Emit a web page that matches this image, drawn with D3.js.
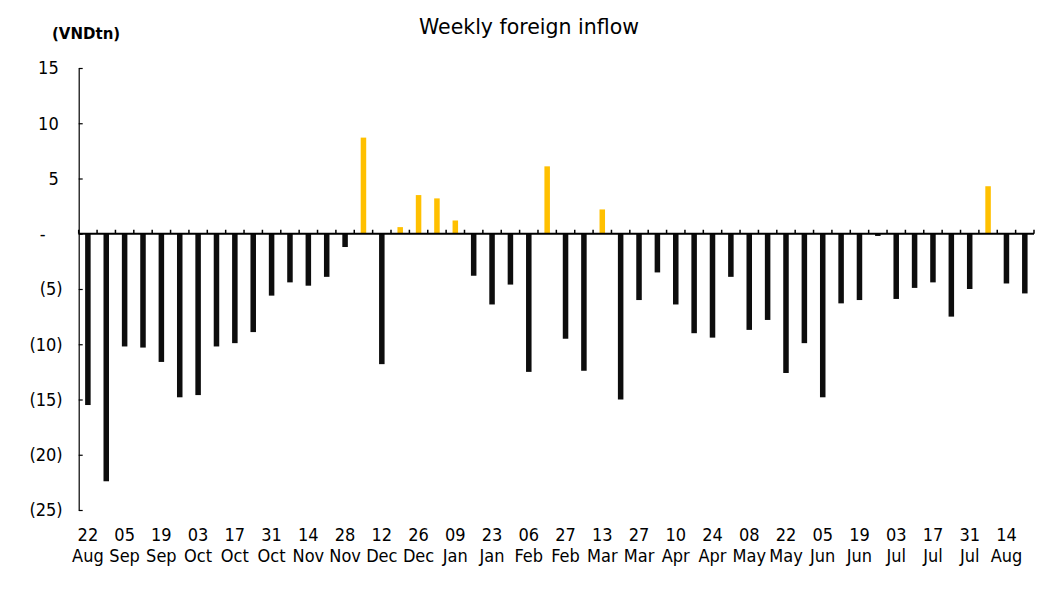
<!DOCTYPE html>
<html>
<head>
<meta charset="utf-8">
<script src="https://cdn.jsdelivr.net/npm/d3@7"></script>
<style>
  body { margin: 0; background: #fff; }
  svg text { font-family: "DejaVu Sans", sans-serif; fill: #000; }
  svg .tick text { font-family: "DejaVu Sans Condensed", "DejaVu Sans", sans-serif; font-stretch: condensed; }
</style>
</head>
<body>
<svg id="chart" width="1058" height="607"></svg>
<script>
// weekly net foreign buy/sell, VND trillion (Tet week not reported)
var weeks = [
  '22 Aug', '29 Aug', '05 Sep', '12 Sep', '19 Sep', '26 Sep', '03 Oct', '10 Oct', '17 Oct', '24 Oct',
  '31 Oct', '07 Nov', '14 Nov', '21 Nov', '28 Nov', '05 Dec', '12 Dec', '19 Dec', '26 Dec', '02 Jan',
  '09 Jan', '16 Jan', '23 Jan', '30 Jan', '06 Feb', '13 Feb', '27 Feb', '06 Mar', '13 Mar', '20 Mar',
  '27 Mar', '03 Apr', '10 Apr', '17 Apr', '24 Apr', '01 May', '08 May', '15 May', '22 May', '29 May',
  '05 Jun', '12 Jun', '19 Jun', '26 Jun', '03 Jul', '10 Jul', '17 Jul', '24 Jul', '31 Jul', '07 Aug',
  '14 Aug', '21 Aug'
];

var inflow = [
  -15.5, -22.4, -10.2, -10.3, -11.6, -14.8, -14.6, -10.2, -9.9, -8.9,
  -5.6, -4.4, -4.7, -3.9, -1.2, 8.7, -11.8, 0.6, 3.5, 3.2,
  1.2, -3.8, -6.4, -4.6, -12.5, 6.1, -9.5, -12.4, 2.2, -15.0,
  -6.0, -3.5, -6.4, -9.0, -9.4, -3.9, -8.7, -7.8, -12.6, -9.9,
  -14.8, -6.3, -6.0, -0.2, -5.9, -4.9, -4.4, -7.5, -5.0, 4.3,
  -4.5, -5.4
];

var yTicks = [-25, -20, -15, -10, -5, 0, 5, 10, 15];

var svg = d3.select('#chart');

var x = d3.scaleBand()
    .domain(weeks)
    .range([78.7, 1034])
    .paddingInner(0.7)
    .paddingOuter(0.35);

var y = d3.scaleLinear()
    .domain([-25, 15])
    .range([510, 68]);

svg.append('text')
    .attr('x', 529)
    .attr('y', 34)
    .attr('text-anchor', 'middle')
    .style('font-size', '20.5px')
    .text('Weekly foreign inflow');

svg.append('text')
    .attr('x', 52)
    .attr('y', 39)
    .style('font-size', '15px')
    .style('font-weight', 'bold')
    .text('(VNDtn)');

// bars
svg.append('g').selectAll('rect')
    .data(inflow)
    .enter().append('rect')
    .attr('x', function(d, i) { return x(weeks[i]); })
    .attr('width', x.bandwidth())
    .attr('y', function(d) { return y(Math.max(0, d)); })
    .attr('height', function(d) { return Math.abs(y(d) - y(0)); })
    .attr('fill', function(d) { return d >= 0 ? '#FFC000' : '#0D0D0D'; });

// y axis, accounting style labels
var yAxis = svg.append('g')
    .attr('transform', 'translate(78.7,0)')
    .call(d3.axisLeft(y)
        .tickValues(yTicks)
        .tickSize(-4)
        .tickSizeOuter(0)
        .tickFormat(function(d) {
            if (d === 0) return '-';
            return d < 0 ? '(' + (-d) + ')' : String(d);
        }));

yAxis.select('.domain').attr('stroke', '#000').attr('stroke-width', 1.2);
yAxis.selectAll('.tick line').attr('stroke', '#000').attr('stroke-width', 1.2);
yAxis.selectAll('.tick text')
    .style('font-size', '18px')
    .attr('fill', '#000')
    .attr('text-anchor', function(d) { return d === 0 ? 'start' : 'end'; })
    .attr('x', function(d) {
        if (d === 0) return -39;
        return d < 0 ? -16 : -20;
    });

// zero line with boundary ticks
var gap = (x.step() - x.bandwidth()) / 2;
var bounds = weeks.map(function(w) { return x(w) - gap; }).concat([x.range()[1]]);

svg.append('g').selectAll('line')
    .data(bounds)
    .enter().append('line')
    .attr('x1', function(d) { return d; })
    .attr('x2', function(d) { return d; })
    .attr('y1', y(0))
    .attr('y2', y(0) - 4)
    .attr('stroke', '#000')
    .attr('stroke-width', 1.5);

svg.append('line')
    .attr('x1', x.range()[0])
    .attr('x2', x.range()[1])
    .attr('y1', y(0))
    .attr('y2', y(0))
    .attr('stroke', '#000')
    .attr('stroke-width', 2);

// category labels along the bottom, every second week
var xAxis = svg.append('g')
    .attr('transform', 'translate(0,510)')
    .call(d3.axisBottom(x)
        .tickValues(weeks.filter(function(d, i) { return i % 2 === 0; }))
        .tickSize(0));

xAxis.select('.domain').remove();
xAxis.selectAll('.tick text').each(function(d) {
    var parts = d.split(' '),
        t = d3.select(this);
    t.text(null).attr('y', null).attr('dy', null)
        .style('font-size', '18px')
        .attr('fill', '#000');
    t.append('tspan').attr('x', 0).attr('y', 31).text(parts[0]);
    t.append('tspan').attr('x', 0).attr('y', 52).text(parts[1]);
});
</script>
</body>
</html>
